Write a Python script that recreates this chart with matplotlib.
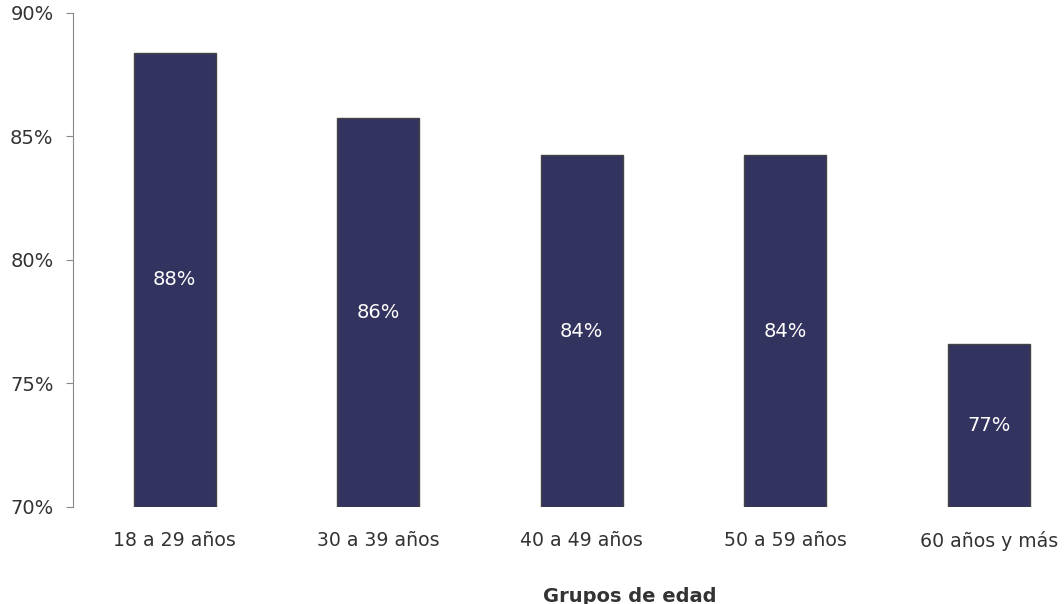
import matplotlib.pyplot as plt

grupos = ['18 a 29 años', '30 a 39 años', '40 a 49 años', '50 a 59 años', '60 años y más']
valores = [88.4, 85.75, 84.25, 84.25, 76.6]
etiquetas = ['88%', '86%', '84%', '84%', '77%']
yticks = [70, 75, 80, 85, 90]

plt.rcParams['font.family'] = ['DejaVu Sans']

fig = plt.figure(figsize=(10.64, 6.04), dpi=100)
ax = fig.add_axes([73 / 1064, 97 / 604, 991 / 1064, 494 / 604])

x = list(range(len(grupos)))
bars = ax.bar(x, [v - 70 for v in valores], bottom=70, width=0.405,
              color='#33335f', edgecolor='#444444', linewidth=1)

for i, b in enumerate(bars):
    ax.text(b.get_x() + b.get_width() / 2, (70 + valores[i]) / 2, etiquetas[i],
            ha='center', va='center', color='white', fontsize=14)

ax.set_xlim(-0.5, 4.37)
ax.set_ylim(70, 90)
ax.set_yticks(yticks)
ax.set_yticklabels([f'{t}%' for t in yticks], fontsize=14, color='#333333')
ax.set_xticks(x)
ax.set_xticklabels(grupos, fontsize=13.6, color='#333333')
ax.tick_params(axis='x', length=0, pad=17)
ax.tick_params(axis='y', length=5, color='#888888', pad=9)

for s in ['top', 'right', 'bottom']:
    ax.spines[s].set_visible(False)
ax.spines['left'].set_color('#888888')

fig.text(630 / 1064, 1 - 596 / 604, 'Grupos de edad', ha='center', va='center',
         fontsize=14, fontweight='bold', color='#333333')

fig.savefig('out.png', dpi=100)
